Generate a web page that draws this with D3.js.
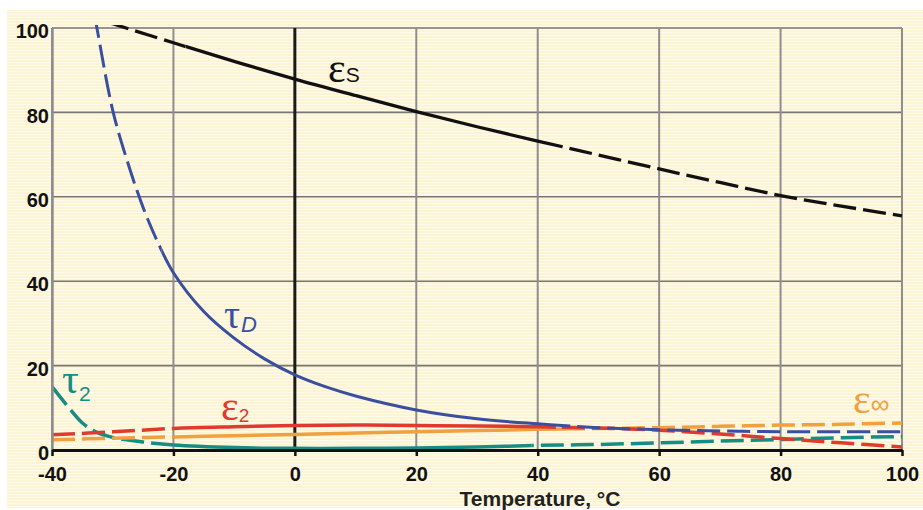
<!DOCTYPE html>
<html>
<head>
<meta charset="utf-8">
<script src="https://cdn.jsdelivr.net/npm/d3@7"></script>
<style>
  body { margin: 0; background: #fff; }
  svg { display: block; }
</style>
</head>
<body>
<div id="chart"></div>
<script>
// water dielectric relaxation parameters vs temperature

const W = 923, H = 510;
const X_TICKS = [-40, -20, 0, 20, 40, 60, 80, 100];
const Y_TICKS = [0, 20, 40, 60, 80, 100];

// static permittivity eps_s
const epsSTemp = [-31, -30, -20, -10, 0, 10, 20, 30, 40, 50, 60, 70, 80, 90, 100];
const epsSVal  = [101.5, 101, 96.5, 92.1, 87.9, 84.0, 80.2, 76.6, 73.2, 69.9, 66.6, 63.4, 60.3, 57.8, 55.5];

// relaxation time tau_D (ps)
const tauDTemp = [-33, -32.6, -30, -27.5, -25, -22.5, -20, -15, -10, -5, 0, 5, 10, 20, 30, 40, 50, 60, 70, 80, 90, 100];
const tauDVal  = [103, 100, 80.5, 68, 57.5, 49, 42, 32.8, 26.5, 21.6, 17.8, 15.0, 12.8, 9.5, 7.4, 6.2, 5.3, 4.8, 4.5, 4.35, 4.3, 4.3];

// eps_2
const eps2Temp = [-40, -30, -20, -10, 0, 10, 20, 30, 40, 50, 60, 70, 80, 90, 100];
const eps2Val  = [3.6, 4.3, 5.1, 5.5, 5.8, 5.9, 5.8, 5.7, 5.5, 5.2, 4.7, 3.8, 2.7, 1.7, 0.7];

// eps_inf
const epsInfTemp = [-40, -30, -20, -10, 0, 10, 20, 30, 40, 50, 60, 70, 80, 90, 100];
const epsInfVal  = [2.4, 2.8, 3.1, 3.4, 3.7, 4.0, 4.3, 4.6, 4.9, 5.1, 5.3, 5.6, 5.9, 6.1, 6.4];

// tau_2 (ps)
const tau2Temp = [-40, -37.5, -35, -32.5, -30, -25, -20, -10, 0, 10, 20, 30, 40, 50, 60, 70, 80, 90, 100];
const tau2Val  = [15, 10.5, 6.4, 4.1, 3.0, 1.9, 1.2, 0.6, 0.4, 0.4, 0.5, 0.7, 1.1, 1.3, 1.7, 2.1, 2.5, 2.9, 3.2];

// temperature range where each curve is drawn solid (measured), dashed elsewhere
const series = [
  { id: 'tau2',   t: tau2Temp,   v: tau2Val,   solid: [-20, 39], color: '#178c84', width: 3.5 },
  { id: 'epsInf', t: epsInfTemp, v: epsInfVal, solid: [-20, 44], color: '#f0a03e', width: 3.5 },
  { id: 'eps2',   t: eps2Temp,   v: eps2Val,   solid: [-20, 43], color: '#e03a2e', width: 3.5 },
  { id: 'tauD',   t: tauDTemp,   v: tauDVal,   solid: [-22, 44], color: '#3a4f9f', width: 3 },
  { id: 'epsS',   t: epsSTemp,   v: epsSVal,   solid: [-18, 44], color: '#111111', width: 3.3 }
];

const x = d3.scaleLinear().domain([-40, 100]).range([52, 902]);
const y = d3.scaleLinear().domain([0, 100]).range([450, 28]);

const svg = d3.select('#chart').append('svg')
  .attr('width', W)
  .attr('height', H);

const defs = svg.append('defs');

// striped cream background
const pat = defs.append('pattern')
  .attr('id', 'stripes')
  .attr('patternUnits', 'userSpaceOnUse')
  .attr('width', 4).attr('height', 3);
pat.append('rect').attr('width', 4).attr('height', 3).attr('fill', '#fdf4d6');
pat.append('rect').attr('y', 2).attr('width', 4).attr('height', 1).attr('fill', '#fffbea');

svg.append('rect')
  .attr('x', 7).attr('y', 10)
  .attr('width', W - 7).attr('height', 498)
  .attr('fill', 'url(#stripes)');

// grid
const grid = svg.append('g');
grid.selectAll('.hgrid')
  .data(Y_TICKS.filter(d => d > 0))
  .enter().append('line')
    .attr('class', 'hgrid')
    .attr('x1', x(-40)).attr('x2', x(100))
    .attr('y1', d => y(d)).attr('y2', d => y(d))
    .attr('stroke', '#767676')
    .attr('stroke-width', 1.6);

grid.selectAll('.vgrid')
  .data(X_TICKS.filter(d => d !== 0))
  .enter().append('line')
    .attr('class', 'vgrid')
    .attr('x1', d => x(d)).attr('x2', d => x(d))
    .attr('y1', y(100)).attr('y2', y(0))
    .attr('stroke', '#8e8e8e')
    .attr('stroke-width', 2);

grid.append('line')
  .attr('x1', x(0)).attr('x2', x(0))
  .attr('y1', y(100)).attr('y2', y(0))
  .attr('stroke', '#1a1a1a')
  .attr('stroke-width', 3);

// clip for whole plot
defs.append('clipPath').attr('id', 'plotclip')
  .append('rect')
    .attr('x', x(-40)).attr('y', y(100) - 3)
    .attr('width', x(100) - x(-40) + 2).attr('height', y(0) - y(100) + 3);

const plot = svg.append('g').attr('clip-path', 'url(#plotclip)');

const line = d3.line()
  .x(d => x(d[0]))
  .y(d => y(d[1]))
  .curve(d3.curveCatmullRom.alpha(0.5));

series.forEach(s => {
  const pts = s.t.map((t, i) => [t, s.v[i]]);
  const x0 = x(s.solid[0]), x1 = x(s.solid[1]);

  defs.append('clipPath').attr('id', 'solid-' + s.id)
    .append('rect')
      .attr('x', x0).attr('y', 0)
      .attr('width', x1 - x0).attr('height', H);

  const dc = defs.append('clipPath').attr('id', 'dash-' + s.id);
  dc.append('rect').attr('x', 0).attr('y', 0).attr('width', x0).attr('height', H);
  dc.append('rect').attr('x', x1).attr('y', 0).attr('width', W - x1).attr('height', H);

  plot.append('path')
    .datum(pts)
    .attr('d', line)
    .attr('fill', 'none')
    .attr('stroke', s.color)
    .attr('stroke-width', s.width)
    .attr('stroke-dasharray', '23,7')
    .attr('clip-path', 'url(#dash-' + s.id + ')');

  plot.append('path')
    .datum(pts)
    .attr('d', line)
    .attr('fill', 'none')
    .attr('stroke', s.color)
    .attr('stroke-width', s.width)
    .attr('clip-path', 'url(#solid-' + s.id + ')');
});

// axes
const yAxis = svg.append('g')
  .attr('transform', `translate(${x(-40)},0)`)
  .call(d3.axisLeft(y).tickValues(Y_TICKS).tickSize(0).tickPadding(3).tickFormat(d => String(d)));
yAxis.select('.domain').attr('stroke', '#8e8e8e').attr('stroke-width', 2.5);
yAxis.selectAll('text')
  .attr('dy', '0.48em')
  .style('font-family', 'Liberation Sans, Arial, sans-serif')
  .style('font-weight', 'bold')
  .style('font-size', '20px')
  .attr('fill', '#111');

const xAxis = svg.append('g')
  .attr('transform', `translate(0,${y(0)})`)
  .call(d3.axisBottom(x).tickValues(X_TICKS).tickSize(6).tickSizeOuter(0).tickPadding(11)
    .tickFormat(d => String(d)));
xAxis.select('.domain').attr('stroke', '#111').attr('stroke-width', 3);
xAxis.selectAll('.tick line').attr('stroke', '#111').attr('stroke-width', 2.5);
xAxis.selectAll('text')
  .style('font-family', 'Liberation Sans, Arial, sans-serif')
  .style('font-weight', 'bold')
  .style('font-size', '20px')
  .attr('fill', '#111');

svg.append('text')
  .attr('x', 540).attr('y', 506)
  .attr('text-anchor', 'middle')
  .style('font-family', 'Liberation Sans, Arial, sans-serif')
  .style('font-weight', 'bold')
  .style('font-size', '21px')
  .attr('fill', '#222')
  .text('Temperature, °C');

// curve labels
const SERIF = 'Liberation Serif, Times New Roman, serif';
const SANS = 'Liberation Sans, Arial, sans-serif';

function curveLabel(px, py, greek, sub, color, opts) {
  const t = svg.append('text')
    .attr('x', px).attr('y', py)
    .attr('fill', color);
  t.append('tspan')
    .style('font-family', SERIF)
    .style('font-size', opts.gSize + 'px')
    .text(greek);
  t.append('tspan')
    .attr('dy', opts.subDy || 0)
    .attr('dx', opts.subDx || 0)
    .style('font-family', opts.subFont || SANS)
    .style('font-style', opts.italic ? 'italic' : 'normal')
    .style('font-size', opts.sSize + 'px')
    .text(sub);
}

curveLabel(328, 82, 'ε', 'S', '#111', { gSize: 42, sSize: 21 });
curveLabel(224, 328, 'τ', 'D', '#3a4f9f', { gSize: 40, sSize: 22, italic: true, subDy: 4, subDx: 1 });
curveLabel(221, 420, 'ε', '2', '#e03a2e', { gSize: 42, sSize: 19, subDy: 2 });
curveLabel(62, 393, 'τ', '2', '#178c84', { gSize: 42, sSize: 21, subDy: 8 });
curveLabel(853, 413, 'ε', '∞', '#f0a03e', { gSize: 42, sSize: 26, subDy: 0 });
</script>
</body>
</html>
